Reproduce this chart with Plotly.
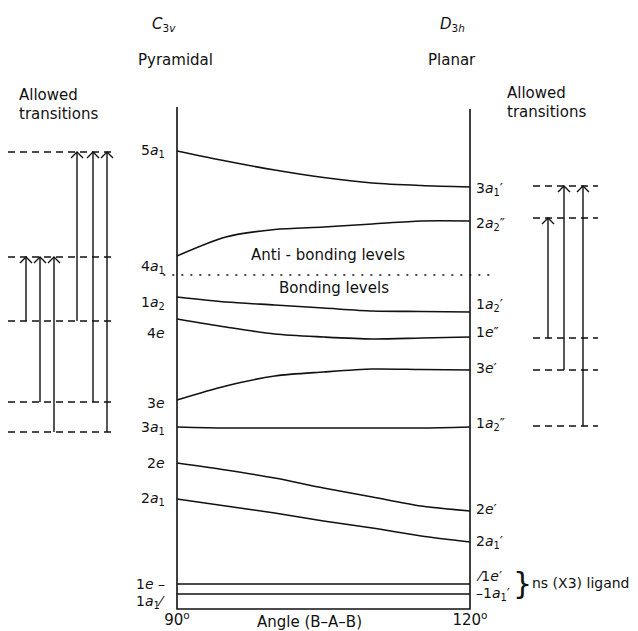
import plotly.graph_objects as go

# ---------------- data (energies in arbitrary units) ----------------
angles = [90, 95, 100, 105, 110, 115, 120]

e_5a1_3a1p = [458, 448, 439, 431.5, 426, 423.5, 422]
e_4a1_2a2pp = [353, 372, 379.5, 382, 385, 388, 388]
e_1a2_1a2p = [312, 307, 304, 301, 298, 297.5, 297]
e_4e_1epp = [290, 282, 275, 272, 270, 271, 272]
e_3e_3ep = [209, 223, 233, 237, 240, 239.5, 239]
e_3a1_1a2pp = [182, 181, 181, 181, 181, 181, 182]
e_2e_2ep = [146, 139, 131, 121, 112, 103, 98]
e_2a1_2a1p = [110, 103, 96, 88, 81, 73, 67]
e_1e_1ep = [25, 25, 25, 25, 25, 25, 25]
e_1a1_1a1p = [15, 15, 15, 15, 15, 15, 15]

curves = [e_5a1_3a1p, e_4a1_2a2pp, e_1a2_1a2p, e_4e_1epp, e_3e_3ep,
          e_3a1_1a2pp, e_2e_2ep, e_2a1_2a1p, e_1e_1ep, e_1a1_1a1p]

P1 = "′"
P2 = "″"
labels_c3v = ["5<i>a</i><sub>1</sub>", "4<i>a</i><sub>1</sub>", "1<i>a</i><sub>2</sub>", "4<i>e</i>",
              "3<i>e</i>", "3<i>a</i><sub>1</sub>", "2<i>e</i>", "2<i>a</i><sub>1</sub>",
              "1<i>e</i> –", "1<i>a</i><sub>1</sub>⁄"]
labels_d3h = ["3<i>a</i><sub>1</sub>" + P1, "2<i>a</i><sub>2</sub>" + P2,
              "1<i>a</i><sub>2</sub>" + P1, "1<i>e</i>" + P2, "3<i>e</i>" + P1,
              "1<i>a</i><sub>2</sub>" + P2, "2<i>e</i>" + P1,
              "2<i>a</i><sub>1</sub>" + P1, "⁄1<i>e</i>" + P1,
              "–1<i>a</i><sub>1</sub>" + P1]

boundary_energy = 334  # dotted line between bonding / anti-bonding levels

# Allowed transitions, C3v (levels and (from, to) pairs)
c3v_levels = {"5a1": 457, "4a1": 352, "4e": 288, "3e": 207, "3a1": 177}
c3v_transitions = [("4e", "4a1"), ("3e", "4a1"), ("3a1", "4a1"),
                   ("4e", "5a1"), ("3e", "5a1"), ("3a1", "5a1")]
# Allowed transitions, D3h
d3h_levels = {"3a1'": 423, "2a2''": 391, "1e''": 271, "3e'": 239, "1a2''": 183}
d3h_transitions = [("1e''", "2a2''"), ("3e'", "3a1'"), ("1a2''", "3a1'")]

tick_vals = [90, 120]
tick_text = ["90<sup>o</sup>", "120<sup>o</sup>"]

# ---------------- layout helpers (styles / positions) ----------------
W, H = 638, 631
FONT = "DejaVu Sans"
BLACK = "#111111"
Y0_PX = 609  # pixel row of energy zero


def deg_range():
    k = 30 / 293.0
    return [90 - 177 * k, 90 + (W - 177) * k]


def px(xp, yp):
    return xp / W, 1 - yp / H


fig = go.Figure()

# frame (two vertical axes + baseline)
fig.add_trace(go.Scatter(x=[90, 90, 120, 120], y=[502, 0, 0, 500], mode="lines",
                         line=dict(color=BLACK, width=1.6), hoverinfo="skip", showlegend=False))

# correlation curves
for c in curves:
    fig.add_trace(go.Scatter(x=angles, y=c, mode="lines",
                             line=dict(color=BLACK, width=1.6, shape="spline", smoothing=0.8),
                             hoverinfo="skip", showlegend=False))

# dotted boundary
fig.add_trace(go.Scatter(x=[88.6, 122.0], y=[boundary_energy, boundary_energy], mode="lines",
                         line=dict(color=BLACK, width=1.5, dash="2px,7px"),
                         hoverinfo="skip", showlegend=False))


# transition diagrams (on pixel-width helper axis x2)
def transition_panel(levels, transitions, x_left, x_right, arrow_xs):
    dx, dy = [], []
    for v in levels.values():
        dx += [x_left, x_right, None]
        dy += [v, v, None]
    fig.add_trace(go.Scatter(x=dx, y=dy, mode="lines", xaxis="x2",
                             line=dict(color=BLACK, width=1.3, dash="7px,5px"),
                             hoverinfo="skip", showlegend=False))
    sx, sy, hx, hy = [], [], [], []
    for (a, b), xa in zip(transitions, arrow_xs):
        sx += [xa, xa, None]
        sy += [levels[a], levels[b], None]
        hx += [xa - 6, xa, xa + 6, None]
        hy += [levels[b] - 6, levels[b], levels[b] - 6, None]
    fig.add_trace(go.Scatter(x=sx, y=sy, mode="lines", xaxis="x2",
                             line=dict(color=BLACK, width=1.4),
                             hoverinfo="skip", showlegend=False))
    fig.add_trace(go.Scatter(x=hx, y=hy, mode="lines", xaxis="x2",
                             line=dict(color=BLACK, width=1.4),
                             hoverinfo="skip", showlegend=False))


transition_panel(c3v_levels, c3v_transitions, 8, 114, [26, 40, 54, 77, 93, 107])
transition_panel(d3h_levels, d3h_transitions, 533, 598, [548, 564, 583])

annotations = []
left_shift = [0, -11, -6, -14, -3, -1, 0, 0, 0, -8]
right_shift = [-2, -3, 7, 5, 2, 3, 2, 0, 8, 0]
for c, t, s in zip(curves, labels_c3v, left_shift):
    annotations.append(dict(x=90, y=c[0], xref="x", yref="y", text=t, showarrow=False,
                            xanchor="right", yanchor="middle", xshift=-10, yshift=s,
                            font=dict(family=FONT, size=14, color=BLACK)))
for c, t, s in zip(curves, labels_d3h, right_shift):
    annotations.append(dict(x=120, y=c[-1], xref="x", yref="y", text=t, showarrow=False,
                            xanchor="left", yanchor="middle", xshift=4, yshift=s,
                            font=dict(family=FONT, size=14, color=BLACK)))


def text_px(t, xp, yp, anchor="center", size=15):
    x, y = px(xp, yp)
    annotations.append(dict(x=x, y=y, xref="paper", yref="paper", text=t, showarrow=False,
                            xanchor=anchor, yanchor="middle",
                            font=dict(family=FONT, size=size, color=BLACK)))


text_px("<i>C</i><sub>3<i>v</i></sub>", 164, 24, size=15)
text_px("Pyramidal", 175, 60)
text_px("<i>D</i><sub>3<i>h</i></sub>", 452, 24, size=15)
text_px("Planar", 452, 60)
text_px("Allowed", 17, 95, "left")
text_px("transitions", 17, 114, "left")
text_px("Allowed", 505, 93, "left")
text_px("transitions", 505, 112, "left")
text_px("Anti - bonding levels", 328, 255)
text_px("Bonding levels", 334, 288)
text_px("Angle (B–A–B)", 309, 622)
text_px("}", 522, 583, "center", size=30)
text_px("ns (X3) ligand", 530, 583, "left", size=14)

fig.update_layout(
    width=W, height=H, margin=dict(l=0, r=0, t=0, b=0),
    paper_bgcolor="white", plot_bgcolor="white",
    showlegend=False, annotations=annotations,
    xaxis=dict(domain=[0, 1], range=deg_range(), anchor="free", position=(H - Y0_PX) / H,
               showgrid=False, zeroline=False, showline=False, ticks="",
               tickvals=tick_vals, ticktext=tick_text,
               tickfont=dict(family=FONT, size=15, color=BLACK)),
    xaxis2=dict(domain=[0, 1], range=[0, W], overlaying="x", visible=False),
    yaxis=dict(domain=[0, 1], range=[Y0_PX - H, Y0_PX], visible=False),
)

fig.write_html("out.html", config={"displayModeBar": False},
               post_script="document.body.style.margin='0px';")
